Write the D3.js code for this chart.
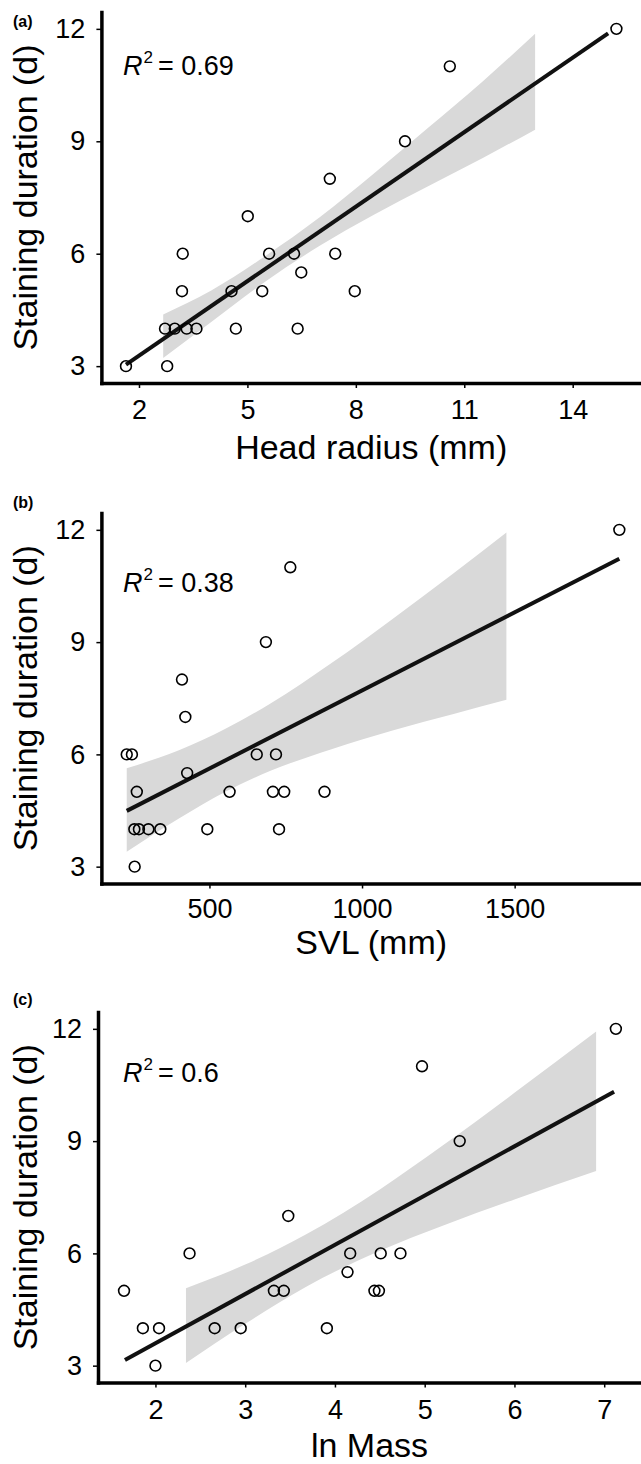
<!DOCTYPE html>
<html>
<head>
<meta charset="utf-8">
<script src="https://cdn.jsdelivr.net/npm/d3@7"></script>
<style>
  body { margin: 0; background: #fff; }
  svg text { font-family: "Liberation Sans", Arial, Helvetica, sans-serif; fill: #000; }
</style>
</head>
<body>
<svg id="chart" width="641" height="1464"></svg>
<script>
// ---- data ----
const yTicks = [3, 6, 9, 12];

// (a) head radius
const headRadius = [1.64, 2.78, 2.72, 2.99, 3.32, 3.59, 4.68, 6.39, 3.19, 4.56, 5.41, 7.97, 6.49, 3.21, 5.60, 6.29, 7.43, 5.01, 7.28, 9.36, 10.60, 15.21];
const durationA  = [3, 3, 4, 4, 4, 4, 4, 4, 5, 5, 5, 5, 5.5, 6, 6, 6, 6, 7, 8, 9, 11, 12];
const fitAX = [1.64, 14.98];
const fitAY = [3.04, 11.88];
const bandAX  = [2.67, 4, 5.5, 7, 8.5, 10, 11.5, 12.96];
const bandALo = [3.22, 4.18, 5.26, 6.21, 7.04, 7.80, 8.55, 9.31];
const bandAHi = [4.38, 5.02, 5.94, 6.97, 8.14, 9.36, 10.59, 11.87];
const ticksA = [2, 5, 8, 11, 14];

// (b) SVL
const svl       = [229, 246, 255, 254, 269, 300, 339, 493, 728, 262, 566, 708, 745, 877, 427, 655, 718, 421, 410, 685, 765, 1843];
const durationB = [6, 6, 3, 4, 4, 4, 4, 4, 4, 5, 5, 5, 5, 5, 5.5, 6, 6, 7, 8, 9, 11, 12];
const fitBX = [229, 1843];
const fitBY = [4.49, 11.23];
const bandBX  = [229, 400, 554, 700, 900, 1100, 1300, 1473];
const bandBLo = [3.40, 4.29, 5.01, 5.56, 6.14, 6.64, 7.08, 7.46];
const bandBHi = [5.63, 6.11, 6.69, 7.36, 8.44, 9.62, 10.84, 11.93];
const ticksB = [500, 1000, 1500];

// (c) ln mass
const lnMass    = [1.65, 1.86, 2.04, 2.00, 2.38, 2.66, 2.95, 3.32, 3.43, 3.48, 3.91, 4.14, 4.17, 4.44, 4.49, 4.51, 4.73, 4.97, 5.39, 7.13];
const durationC = [5, 4, 4, 3, 6, 4, 4, 5, 5, 7, 4, 5.5, 6, 5, 5, 6, 6, 11, 9, 12];
const fitCX = [1.66, 7.11];
const fitCY = [3.15, 10.32];
const bandCX  = [2.34, 3, 3.68, 4.5, 5.2, 6, 6.91];
const bandCLo = [3.07, 4.12, 5.11, 6.07, 6.74, 7.44, 8.2];
const bandCHi = [5.07, 5.70, 6.51, 7.71, 8.88, 10.29, 11.93];
const ticksC = [2, 3, 4, 5, 6, 7];

// ---- layout for each panel ----
const panels = [
  { label: "(a)", xs: headRadius, ys: durationA, fitX: fitAX, fitY: fitAY,
    bandX: bandAX, bandLo: bandALo, bandHi: bandAHi, r2: "0.69",
    xTitle: "Head radius (mm)", xTicks: ticksA, xDomain: [0.96, 15.89],
    left: 101.4, top: 12, bottom: 383, labelY: 27, r2Y: 75, titleY: 459, pad: 12 },
  { label: "(b)", xs: svl, ys: durationB, fitX: fitBX, fitY: fitBY,
    bandX: bandBX, bandLo: bandBLo, bandHi: bandBHi, r2: "0.38",
    xTitle: "SVL (mm)", xTicks: ticksB, xDomain: [146, 1914],
    left: 101.4, top: 513, bottom: 883.5, labelY: 508, r2Y: 592, titleY: 954, pad: 10 },
  { label: "(c)", xs: lnMass, ys: durationC, fitX: fitCX, fitY: fitCY,
    bandX: bandCX, bandLo: bandCLo, bandHi: bandCHi, r2: "0.6",
    xTitle: "ln Mass", xTicks: ticksC, xDomain: [1.36, 7.41],
    left: 98, top: 1012, bottom: 1382.5, labelY: 1005, r2Y: 1082, titleY: 1457, pad: 12 }
];

const svg = d3.select("#chart");
const W = 641;
const fmt = d3.format("d");

panels.forEach(p => {
  const g = svg.append("g");
  const x = d3.scaleLinear().domain(p.xDomain).range([p.left, W]);
  const y = d3.scaleLinear().domain([2.55, 12.45]).range([p.bottom, p.top]);

  // confidence band
  g.append("path")
    .datum(d3.zip(p.bandX, p.bandLo, p.bandHi))
    .attr("fill", "#d9d9d9")
    .attr("d", d3.area()
      .x(d => x(d[0]))
      .y0(d => y(d[1]))
      .y1(d => y(d[2]))
      .curve(d3.curveMonotoneX));

  // fitted line
  g.append("path")
    .datum(d3.zip(p.fitX, p.fitY))
    .attr("fill", "none")
    .attr("stroke", "#111")
    .attr("stroke-width", 4)
    .attr("d", d3.line().x(d => x(d[0])).y(d => y(d[1])));

  // points
  g.selectAll("circle.pt")
    .data(d3.zip(p.xs, p.ys))
    .join("circle")
    .attr("class", "pt")
    .attr("cx", d => x(d[0]))
    .attr("cy", d => y(d[1]))
    .attr("r", 5.4)
    .attr("fill", "none")
    .attr("stroke", "#000")
    .attr("stroke-width", 1.6);

  // axes
  const xa = g.append("g")
    .attr("transform", `translate(0,${p.bottom})`)
    .call(d3.axisBottom(x).tickValues(p.xTicks).tickFormat(fmt)
      .tickSize(5).tickSizeOuter(0).tickPadding(p.pad));
  const ya = g.append("g")
    .attr("transform", `translate(${p.left},0)`)
    .call(d3.axisLeft(y).tickValues(yTicks).tickFormat(fmt)
      .tickSize(5).tickSizeOuter(0).tickPadding(11));

  [xa, ya].forEach(a => {
    a.select(".domain").attr("stroke", "#000").attr("stroke-width", 3.5).attr("stroke-linecap", "square");
    a.selectAll(".tick line").attr("stroke", "#000").attr("stroke-width", 1.5);
    a.selectAll(".tick text").attr("font-size", 27).attr("fill", "#000")
      .style("font-family", '"Liberation Sans", Arial, sans-serif');
  });

  // axis titles
  g.append("text")
    .attr("x", (p.left + W) / 2)
    .attr("y", p.titleY)
    .attr("text-anchor", "middle")
    .attr("font-size", 34)
    .text(p.xTitle);

  g.append("text")
    .attr("transform", `translate(37,${(p.top + p.bottom) / 2}) rotate(-90)`)
    .attr("text-anchor", "middle")
    .attr("font-size", 34)
    .text("Staining duration (d)");

  // panel tag
  g.append("text")
    .attr("x", 13)
    .attr("y", p.labelY)
    .attr("font-size", 16)
    .attr("font-weight", "bold")
    .text(p.label);

  // R squared annotation
  const t = g.append("text")
    .attr("x", 123)
    .attr("y", p.r2Y)
    .attr("font-size", 27);
  t.append("tspan").attr("font-style", "italic").text("R");
  t.append("tspan").attr("font-size", 17).attr("dy", -12).attr("dx", 1).text("2");
  t.append("tspan").attr("dy", 12).attr("dx", 5).text("= " + p.r2);
});
</script>
</body>
</html>
